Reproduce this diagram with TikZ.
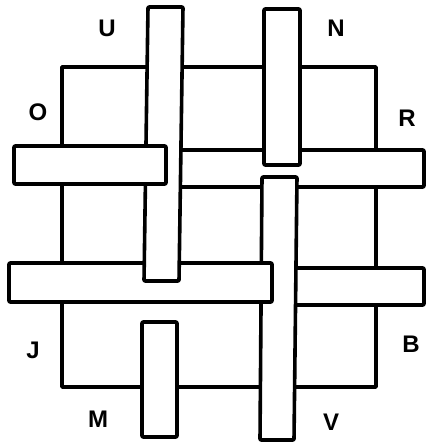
\documentclass[tikz,border=0pt]{standalone}
\usepackage{fontspec}
\setmainfont{Liberation Sans}
\begin{document}
\begin{tikzpicture}[x=1pt,y=-1pt,
  bar/.style={draw=black,fill=white,line width=3.6pt,line join=round,rounded corners=1pt},
  frame/.style={draw=black,line width=3.6pt,line join=round},
  lab/.style={font=\fontsize{24}{24}\selectfont\bfseries,inner sep=0pt}]
\useasboundingbox (0,0) rectangle (429,447);
% outer square
\draw[frame] (62,67) rectangle (376,387);
% bars, back to front
\draw[bar] (175,150) rectangle (424,187);
\draw[bar] (285,268) rectangle (424,305);
\draw[bar] (264,9) rectangle (300,165);
\draw[bar] (262,177) -- (297,177) -- (294,440) -- (260,440) -- cycle;
\draw[bar] (9,263) rectangle (272,302);
\draw[bar] (148,7) -- (183,7) -- (179,281) -- (144,281) -- cycle;
\draw[bar] (14,146) rectangle (166,184);
\draw[bar] (142,322) rectangle (177,437);
% labels
\node[lab] (u) at (107,28) {U};
\node[lab] (n) at (336,28) {N};
\node[lab] (o) at (38,112) {O};
\node[lab] (r) at (407,118) {R};
\node[lab] (j) at (33,350) {J};
\node[lab] (b) at (411,344) {B};
\node[lab] (m) at (98,419) {M};
\node[lab] (v) at (331,422) {V};
\end{tikzpicture}
\end{document}
